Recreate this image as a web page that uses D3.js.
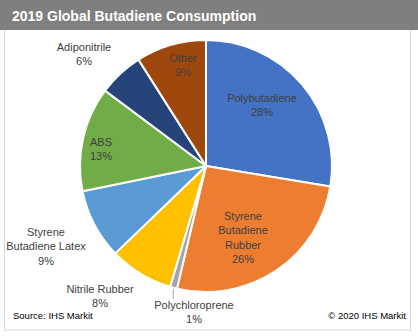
<!DOCTYPE html>
<html>
<head>
<meta charset="utf-8">
<script src="https://cdn.jsdelivr.net/npm/d3@7"></script>
<style>
  html, body { margin: 0; padding: 0; background: #fff; }
  svg { display: block; font-family: "Liberation Sans", Arial, sans-serif; }
</style>
</head>
<body>
<svg id="chart" width="418" height="336"></svg>
<script>
const title = "2019 Global Butadiene Consumption";
const categories = ["Polybutadiene", "Styrene Butadiene Rubber", "Polychloroprene", "Nitrile Rubber", "Styrene Butadiene Latex", "ABS", "Adiponitrile", "Other"];
const labelLines = [["Polybutadiene"], ["Styrene", "Butadiene", "Rubber"], ["Polychloroprene"], ["Nitrile Rubber"], ["Styrene", "Butadiene Latex"], ["ABS"], ["Adiponitrile"], ["Other"]];
const values = [27.6, 26.1, 0.9, 8.2, 9.0, 13.4, 5.8, 9.0];
const percentLabels = ["28%", "26%", "1%", "8%", "9%", "13%", "6%", "9%"];
const colors = ["#4472C4", "#ED7D31", "#A5A5A5", "#FFC000", "#5B9BD5", "#70AD47", "#264478", "#9E480E"];
const source = "Source: IHS Markit";
const copyright = "\u00A9 2020 IHS Markit";

const svg = d3.select("#chart");
const W = 418, H = 336;

// frame
svg.append("rect").attr("x", 4.5).attr("y", 0.5).attr("width", 406).attr("height", 329.5)
  .attr("fill", "#fff").attr("stroke", "#d9d9d9").attr("stroke-width", 1);
svg.append("rect").attr("x", 0).attr("y", 0).attr("width", W).attr("height", 30).attr("fill", "#7f7f7f");
svg.append("text").attr("x", 12).attr("y", 20.5).attr("fill", "#fff")
  .attr("font-size", 14).attr("font-weight", "bold").text(title);

const cx = 206, cy = 166, r = 126;
const g = svg.append("g").attr("transform", `translate(${cx},${cy})`);
const pie = d3.pie().sort(null).value(d => d)(values);
const arc = d3.arc().innerRadius(0).outerRadius(r);

g.selectAll("path.slice").data(pie).join("path")
  .attr("class", "slice")
  .attr("d", arc)
  .attr("fill", (d, i) => colors[i])
  .attr("stroke", "#fff").attr("stroke-width", 2).attr("stroke-linejoin", "round");

// label anchor positions (absolute)
const labelPos = [
  [262, 98], [243, 216], [194, 305], [100, 289], [46, 232], [101, 142], [84, 47], [183, 58]
];
const lineH = 14.3;
const lg = svg.append("g").attr("font-size", 11).attr("fill", "#404040").attr("text-anchor", "middle");
categories.forEach((c, i) => {
  const lines = labelLines[i].concat([percentLabels[i]]);
  const t = lg.append("text").attr("x", labelPos[i][0]).attr("y", labelPos[i][1] + 4);
  lines.forEach((ln, k) => {
    t.append("tspan").attr("x", labelPos[i][0]).attr("dy", k === 0 ? 0 : lineH).text(ln);
  });
});

// leader line for Polychloroprene
const pc = pie[2];
const mid = (pc.startAngle + pc.endAngle) / 2;
const lx = cx + Math.sin(mid) * (r + 1);
const ly = cy - Math.cos(mid) * (r + 1);
svg.append("line").attr("x1", lx).attr("y1", ly).attr("x2", lx).attr("y2", 299)
  .attr("stroke", "#a5a5a5").attr("stroke-width", 1);

svg.append("text").attr("x", 13).attr("y", 319).attr("font-size", 9.5).attr("fill", "#000").text(source);
svg.append("text").attr("x", 406).attr("y", 319).attr("font-size", 9.5).attr("fill", "#000")
  .attr("text-anchor", "end").text(copyright);
</script>
</body>
</html>
